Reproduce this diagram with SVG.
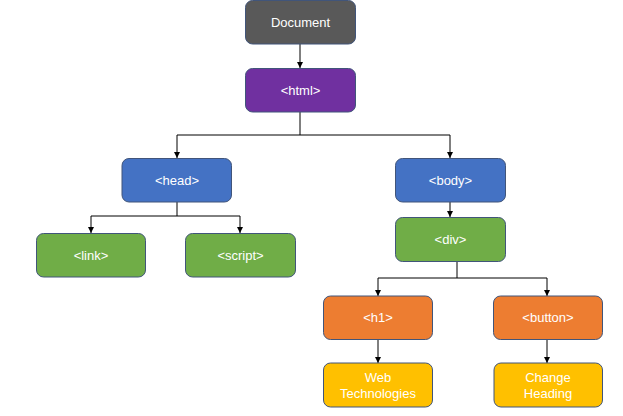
<svg xmlns="http://www.w3.org/2000/svg" width="623" height="416" viewBox="0 0 623 416">
<style>
.n{stroke:#41557a;stroke-width:1}
.t{font-family:"Liberation Sans",Arial,sans-serif;font-size:13px;fill:#ffffff;text-anchor:middle;dominant-baseline:central}
.c{stroke:#000;stroke-width:1;fill:none}
</style>
<defs>
<marker id="a" viewBox="0 0 8 8" refX="8" refY="4" markerWidth="6" markerHeight="6" markerUnits="userSpaceOnUse" orient="auto">
<path d="M0,0 L8,4 L0,8 z" fill="#000"/>
</marker>
</defs>
<rect width="623" height="416" fill="#ffffff"/>
<g id="connectors">
<path class="c" d="M300,44 V68" marker-end="url(#a)"/>
<path class="c" d="M300,112 V135 M177,135 H450"/>
<path class="c" d="M177,135 V158" marker-end="url(#a)"/>
<path class="c" d="M450,135 V158" marker-end="url(#a)"/>
<path class="c" d="M177,202 V216 M91,216 H240"/>
<path class="c" d="M91,216 V233" marker-end="url(#a)"/>
<path class="c" d="M240,216 V233" marker-end="url(#a)"/>
<path class="c" d="M450,202 V217" marker-end="url(#a)"/>
<path class="c" d="M457,262 V278 M378,278 H547"/>
<path class="c" d="M378,278 V296" marker-end="url(#a)"/>
<path class="c" d="M547,278 V296" marker-end="url(#a)"/>
<path class="c" d="M378,339 V363" marker-end="url(#a)"/>
<path class="c" d="M547,339 V363" marker-end="url(#a)"/>
</g>
<g id="document"><rect class="n" x="245.5" y="0.5" width="110" height="43.5" rx="7" fill="#595959"/><text class="t" x="300.5" y="22">Document</text></g>
<g id="html"><rect class="n" x="245.5" y="68.5" width="110" height="43.5" rx="7" fill="#7030a0"/><text class="t" x="300.5" y="90">&lt;html&gt;</text></g>
<g id="head"><rect class="n" x="122" y="158.5" width="109.5" height="43.5" rx="7" fill="#4472c4"/><text class="t" x="177" y="180.5">&lt;head&gt;</text></g>
<g id="body"><rect class="n" x="395.5" y="158.5" width="110" height="43.5" rx="7" fill="#4472c4"/><text class="t" x="450.5" y="180.5">&lt;body&gt;</text></g>
<g id="link"><rect class="n" x="36.5" y="233.5" width="109" height="43.5" rx="7" fill="#70ad47"/><text class="t" x="91" y="255">&lt;link&gt;</text></g>
<g id="script"><rect class="n" x="185.5" y="233.5" width="110" height="43.5" rx="7" fill="#70ad47"/><text class="t" x="240.5" y="255">&lt;script&gt;</text></g>
<g id="div"><rect class="n" x="395.5" y="217.5" width="110" height="44" rx="7" fill="#70ad47"/><text class="t" x="450.5" y="239.5">&lt;div&gt;</text></g>
<g id="h1"><rect class="n" x="323.5" y="296" width="109" height="43.5" rx="7" fill="#ed7d31"/><text class="t" x="378" y="317.5">&lt;h1&gt;</text></g>
<g id="button"><rect class="n" x="493.5" y="296" width="109" height="43.5" rx="7" fill="#ed7d31"/><text class="t" x="548" y="317.5">&lt;button&gt;</text></g>
<g id="webtech"><rect class="n" x="323.5" y="363" width="109" height="44" rx="7" fill="#ffc000"/><text class="t" x="378" y="377">Web</text><text class="t" x="378" y="393">Technologies</text></g>
<g id="changeheading"><rect class="n" x="494" y="363" width="108.5" height="44" rx="7" fill="#ffc000"/><text class="t" x="548" y="377">Change</text><text class="t" x="548" y="393">Heading</text></g>
</svg>
